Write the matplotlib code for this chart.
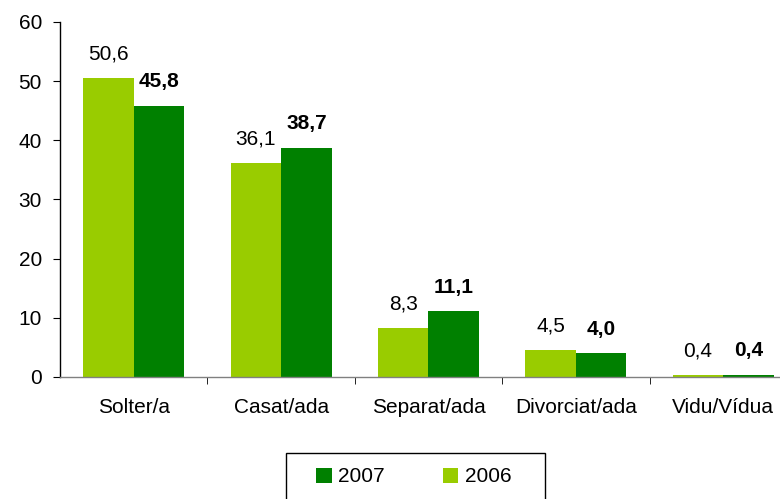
import matplotlib
matplotlib.use("Agg")
import matplotlib.pyplot as plt
from matplotlib.patches import Rectangle
import numpy as np

categories = ["Solter/a", "Casat/ada", "Separat/ada", "Divorciat/ada", "Vidu/Vídua"]
values_2006 = [50.6, 36.1, 8.3, 4.5, 0.4]
values_2007 = [45.8, 38.7, 11.1, 4.0, 0.4]
yticks = [0, 10, 20, 30, 40, 50, 60]

plt.rcParams['font.family'] = ['Liberation Sans', 'DejaVu Sans']
FS = 15

W, H = 780, 499
fig = plt.figure(figsize=(W / 100, H / 100), dpi=100)
ax = fig.add_axes([60 / W, (H - 377) / H, (780 - 60) / W, (377 - 22) / H])

x = np.arange(len(categories))
bw = 0.343
c06 = "#99CC00"
c07 = "#008000"
b06 = ax.bar(x - bw / 2, values_2006, bw, color=c06, label="2006")
b07 = ax.bar(x + bw / 2, values_2007, bw, color=c07, label="2007")

fmt = lambda v: f"{v:.1f}".replace(".", ",")
for xi, v in zip(x, values_2006):
    ax.annotate(fmt(v), (xi - bw / 2, v), xytext=(0, 10.5), textcoords="offset points",
                ha="center", va="bottom", fontsize=FS)
for xi, v in zip(x, values_2007):
    ax.annotate(fmt(v), (xi + bw / 2, v), xytext=(0, 10.5), textcoords="offset points",
                ha="center", va="bottom", fontsize=FS, fontweight="bold")

ax.set_ylim(0, 60)
ax.set_yticks(yticks)
ax.set_xticks(x)
ax.set_xticklabels(categories, fontsize=FS)
ax.set_xticks(np.arange(len(categories) - 1) + 0.5, minor=True)
ax.set_xlim(-0.5, 4.385)
ax.tick_params(axis="x", which="major", length=0, pad=15)
ax.tick_params(axis="x", which="minor", length=5, direction="out", color="#000000")
ax.tick_params(axis="y", length=5, direction="out", labelsize=FS, pad=8)

for s in ["top", "right"]:
    ax.spines[s].set_visible(False)
ax.spines["left"].set_color("#000000")
ax.spines["bottom"].set_color("#808080")
ax.spines["left"].set_linewidth(1)
ax.spines["bottom"].set_linewidth(1)

# legend frame (clipped by the bottom of the figure, as in the reference)
fig.patches.append(Rectangle((285.5 / W, -20 / H), (544.5 - 285.5) / W, (H - 453 + 20) / H,
                             transform=fig.transFigure, fill=False, edgecolor="#000000",
                             linewidth=1))

leg = fig.legend(handles=[b07, b06], labels=["2007", "2006"], loc="center left",
                 bbox_to_anchor=(316 / W, (H - 477) / H), ncol=2, frameon=False,
                 fontsize=FS, handlelength=0.75, handleheight=0.75, columnspacing=2.8,
                 handletextpad=0.3, borderpad=0, borderaxespad=0)

fig.savefig("out.png", dpi=100)
